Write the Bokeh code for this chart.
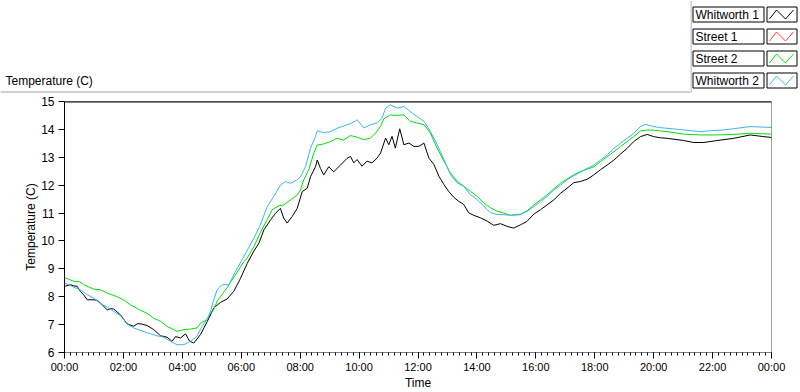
from bokeh.plotting import figure
from bokeh.models import Range1d, FixedTicker, Span, Label
from bokeh.layouts import column, row
from bokeh.core.properties import value
from bokeh.embed import file_html
from bokeh.resources import INLINE

FONT = "Liberation Sans"

# ---------------- data (hours since midnight, temperature in C) ----------------
w1_hours = [0.00, 0.20, 0.32, 0.43, 0.54, 0.65, 0.77, 1.00, 1.11, 1.22, 1.45, 1.56, 1.67, 1.90,
            2.12, 2.35, 2.47, 2.58, 2.80, 3.03, 3.26, 3.48, 3.65, 3.77, 3.94, 4.11, 4.25, 4.39,
            4.62, 4.84, 5.07, 5.30, 5.52, 5.75, 5.97, 6.20, 6.43, 6.60, 6.77, 7.00, 7.16, 7.33,
            7.44, 7.56, 7.73, 7.90, 8.07, 8.24, 8.35, 8.52, 8.58, 8.69, 8.80, 8.97, 9.14, 9.37,
            9.59, 9.71, 9.82, 9.93, 10.10, 10.27, 10.44, 10.61, 10.73, 10.90, 11.01, 11.12,
            11.23, 11.38, 11.52, 11.69, 11.86, 12.03, 12.20, 12.37, 12.54, 12.71, 12.88, 13.04,
            13.21, 13.38, 13.55, 13.72, 13.89, 14.12, 14.35, 14.57, 14.80, 15.03, 15.25, 15.48,
            15.70, 15.93, 16.16, 16.38, 16.61, 16.84, 17.06, 17.29, 17.51, 17.74, 17.97, 18.19,
            18.42, 18.65, 18.87, 19.10, 19.32, 19.55, 19.78, 20.00, 20.23, 20.46, 21.02, 21.36,
            21.70, 22.15, 22.72, 23.28, 23.74, 24.00]
w1_temps = [8.37, 8.43, 8.39, 8.37, 8.19, 8.07, 7.89, 7.89, 7.87, 7.77, 7.53, 7.57, 7.56, 7.35,
            7.03, 6.94, 7.03, 7.03, 6.97, 6.82, 6.60, 6.55, 6.40, 6.57, 6.52, 6.67, 6.40, 6.34,
            6.65, 7.10, 7.60, 7.80, 7.92, 8.20, 8.65, 9.19, 9.64, 9.92, 10.40, 10.76, 10.99, 11.17,
            10.82, 10.64, 10.88, 11.17, 11.77, 11.89, 12.30, 12.66, 12.90, 12.60, 12.37, 12.66, 12.48, 12.72,
            12.96, 13.03, 12.80, 12.92, 12.68, 12.86, 12.80, 12.97, 13.15, 13.69, 13.45, 13.75,
            13.33, 14.02, 13.45, 13.51, 13.39, 13.39, 13.51, 12.97, 12.74, 12.32, 12.02, 11.78,
            11.57, 11.42, 11.31, 11.01, 10.92, 10.83, 10.71, 10.56, 10.62, 10.52, 10.46, 10.58,
            10.70, 10.96, 11.12, 11.29, 11.47, 11.71, 11.89, 12.09, 12.13, 12.21, 12.37, 12.55,
            12.72, 12.90, 13.11, 13.32, 13.56, 13.74, 13.82, 13.74, 13.70, 13.68, 13.60, 13.53,
            13.53, 13.60, 13.68, 13.80, 13.74, 13.71]

s2_hours = [0.00, 0.32, 0.49, 0.65, 1.00, 1.22, 1.45, 1.79, 2.00, 2.24, 2.58, 2.80, 3.03, 3.26,
            3.48, 3.71, 3.82, 4.05, 4.27, 4.50, 4.62, 4.84, 4.95, 5.07, 5.18, 5.29, 5.52, 5.75,
            5.97, 6.09, 6.20, 6.43, 6.65, 6.88, 7.05, 7.27, 7.44, 7.67, 7.90, 8.01, 8.12, 8.29,
            8.46, 8.58, 8.80, 9.03, 9.25, 9.48, 9.71, 9.93, 10.16, 10.39, 10.56, 10.73, 10.84,
            11.07, 11.29, 11.52, 11.74, 11.97, 12.20, 12.42, 12.65, 12.88, 13.10, 13.33, 13.55,
            13.78, 14.01, 14.23, 14.46, 14.68, 14.91, 15.14, 15.48, 15.70, 15.93, 16.16, 16.38,
            16.61, 16.84, 17.06, 17.29, 17.51, 17.74, 17.97, 18.19, 18.42, 18.65, 18.87, 19.10,
            19.32, 19.55, 19.78, 20.00, 20.46, 21.02, 21.59, 22.15, 22.72, 23.28, 24.00]
s2_temps = [8.69, 8.55, 8.55, 8.43, 8.27, 8.25, 8.13, 8.00, 7.89, 7.71, 7.51, 7.41, 7.23, 7.12,
            6.94, 6.82, 6.76, 6.82, 6.84, 6.88, 7.05, 7.18, 7.40, 7.55, 7.84, 8.00, 8.33, 8.70,
            9.06, 9.27, 9.38, 9.80, 10.30, 10.76, 11.12, 11.26, 11.29, 11.47, 11.65, 11.83, 12.19, 12.55,
            13.14, 13.44, 13.48, 13.56, 13.68, 13.62, 13.78, 13.72, 13.63, 13.69, 13.87, 14.11, 14.38,
            14.52, 14.50, 14.52, 14.29, 14.23, 14.17, 13.87, 13.33, 12.86, 12.44, 12.14, 11.96,
            11.78, 11.60, 11.36, 11.19, 11.07, 11.00, 10.92, 10.96, 11.08, 11.29, 11.47, 11.65,
            11.87, 12.07, 12.22, 12.37, 12.49, 12.57, 12.66, 12.84, 13.02, 13.20, 13.38, 13.56,
            13.74, 13.94, 13.98, 13.97, 13.92, 13.83, 13.80, 13.80, 13.82, 13.86, 13.83]

w2_hours = [0.00, 0.32, 0.54, 0.77, 1.00, 1.22, 1.45, 1.67, 1.90, 2.12, 2.35, 2.58, 2.92, 3.14,
            3.37, 3.60, 3.82, 4.05, 4.27, 4.50, 4.62, 4.84, 4.95, 5.07, 5.18, 5.35, 5.58, 5.75,
            6.09, 6.43, 6.65, 6.88, 7.10, 7.33, 7.50, 7.67, 7.90, 8.01, 8.18, 8.35, 8.52, 8.58,
            8.80, 9.03, 9.25, 9.48, 9.71, 9.88, 9.93, 10.16, 10.39, 10.61, 10.78, 10.90, 11.07,
            11.29, 11.52, 11.74, 11.97, 12.20, 12.42, 12.65, 12.88, 13.10, 13.33, 13.55, 13.78,
            14.01, 14.23, 14.46, 14.68, 14.91, 15.14, 15.48, 15.70, 15.93, 16.16, 16.38, 16.61,
            16.84, 17.06, 17.29, 17.51, 17.74, 17.97, 18.19, 18.42, 18.65, 18.87, 19.10, 19.32,
            19.55, 19.72, 20.00, 20.23, 20.46, 21.02, 21.59, 21.93, 22.38, 22.83, 23.28, 24.00]
w2_temps = [8.49, 8.34, 8.25, 8.07, 7.95, 7.75, 7.63, 7.47, 7.32, 7.03, 6.88, 6.79, 6.67, 6.60,
            6.55, 6.40, 6.28, 6.28, 6.40, 6.58, 6.85, 7.20, 7.45, 7.90, 8.25, 8.43, 8.43, 8.80,
            9.45, 10.10, 10.58, 11.23, 11.59, 12.00, 12.13, 12.07, 12.19, 12.30, 12.66, 13.32, 13.74, 13.95,
            13.88, 13.92, 14.04, 14.12, 14.21, 14.30, 14.35, 14.05, 14.17, 14.23, 14.40, 14.76, 14.88,
            14.76, 14.82, 14.64, 14.46, 14.29, 13.93, 13.45, 12.92, 12.38, 12.08, 11.96, 11.66,
            11.48, 11.25, 11.01, 10.95, 10.94, 10.92, 10.94, 11.06, 11.23, 11.41, 11.59, 11.83,
            12.00, 12.19, 12.34, 12.46, 12.60, 12.72, 12.90, 13.08, 13.32, 13.50, 13.68, 13.86,
            14.10, 14.18, 14.10, 14.06, 14.04, 13.98, 13.92, 13.95, 13.98, 14.04, 14.10, 14.07]

legend_names = ["Whitworth 1", "Street 1", "Street 2", "Whitworth 2"]
legend_colors = ["#000000", "#ff3b3b", "#00e000", "#3cb4f5"]

x_tick_hours = [0, 2, 4, 6, 8, 10, 12, 14, 16, 18, 20, 22, 24]
x_tick_labels = ["00:00", "02:00", "04:00", "06:00", "08:00", "10:00", "12:00",
                 "14:00", "16:00", "18:00", "20:00", "22:00", "00:00"]
y_ticks = [6, 7, 8, 9, 10, 11, 12, 13, 14, 15]

TOP_H = 93
LEG_W = 110

# ---------------- top strip: chart caption ----------------
tl = figure(width=800 - LEG_W, height=TOP_H, x_range=Range1d(0, 800 - LEG_W),
            y_range=Range1d(TOP_H, 0),
            x_axis_location=None, y_axis_location=None, min_border=0,
            output_backend="svg", toolbar_location=None)
tl.xgrid.visible = False
tl.ygrid.visible = False
tl.outline_line_color = None
tl.add_layout(Label(x=5, y=80, text="Temperature (C)", text_baseline="middle",
                    text_font=FONT, text_font_size="12px", text_color="#000000"))
tl.add_layout(Span(location=TOP_H - 1.5, dimension="width", line_color="#a0a0a0", line_width=1))

# ---------------- legend panel ----------------
lg = figure(width=LEG_W, height=TOP_H, x_range=Range1d(0, LEG_W), y_range=Range1d(TOP_H, 0),
            x_axis_location=None, y_axis_location=None, min_border=0,
            output_backend="svg", toolbar_location=None)
lg.xgrid.visible = False
lg.ygrid.visible = False
lg.outline_line_color = None
lg.add_layout(Span(location=0.5, dimension="height", line_color="#a0a0a0", line_width=1))
for i, (nm, col) in enumerate(zip(legend_names, legend_colors)):
    top = 6.5 + 22 * i
    bot = top + 15
    lg.quad(left=[2.5], right=[73.5], top=[top], bottom=[bot],
            fill_color="white", line_color="#000000", line_width=1)
    lg.quad(left=[76.5], right=[106.5], top=[top], bottom=[bot],
            fill_color="white", line_color="#000000", line_width=1)
    lg.line(x=[79, 86, 95, 103], y=[bot - 3, top + 3, bot - 3, top + 3],
            line_color=col, line_width=1)
    lg.text(x=[5], y=[top + 8], text=[nm], text_baseline="middle",
            text_font=value(FONT), text_font_size="12px", text_color="#000000")

# ---------------- main chart ----------------
p = figure(width=800, height=392 - TOP_H, x_range=Range1d(0, 24), y_range=Range1d(6, 15),
           min_border_left=64, min_border_right=29, min_border_top=8, min_border_bottom=39,
           output_backend="svg", toolbar_location=None)
p.xgrid.visible = False
p.ygrid.visible = False
p.background_fill_color = "white"
p.border_fill_color = "white"
p.outline_line_color = "#a0a0a0"

minor = [round(i * 0.2, 2) for i in range(121)]
p.xaxis.ticker = FixedTicker(ticks=x_tick_hours, minor_ticks=minor)
p.xaxis.major_label_overrides = {h: lab for h, lab in zip(x_tick_hours, x_tick_labels)}
p.yaxis.ticker = FixedTicker(ticks=y_ticks, minor_ticks=[])

p.xaxis.axis_label = "Time"
p.yaxis.axis_label = "Temperature (C)"
for ax in (p.xaxis, p.yaxis):
    ax.axis_label_text_font = FONT
    ax.axis_label_text_font_size = "12px"
    ax.axis_label_text_font_style = "normal"
    ax.axis_label_text_color = "#000000"
    ax.major_label_text_font = FONT
    ax.major_label_text_color = "#000000"
    ax.major_tick_in = 0
    ax.major_tick_out = 6
    ax.minor_tick_in = 0
    ax.major_tick_line_color = "#000000"
    ax.minor_tick_line_color = "#000000"

p.xaxis.major_label_text_font_size = "11px"
p.yaxis.major_label_text_font_size = "12px"
p.xaxis.minor_tick_out = 3
p.xaxis.major_label_standoff = 2
p.xaxis.axis_label_standoff = 0
p.xaxis.axis_line_color = "#808080"
p.yaxis.axis_line_color = "#000000"
p.yaxis.major_label_standoff = 4
p.yaxis.axis_label_standoff = 0

p.add_layout(Span(location=15, dimension="width", line_color="#000000", line_width=2))

p.line(w1_hours, w1_temps, line_color=legend_colors[0], line_width=1)
p.line(s2_hours, s2_temps, line_color=legend_colors[2], line_width=1)
p.line(w2_hours, w2_temps, line_color=legend_colors[3], line_width=1)

layout = column(row(tl, lg), p)
open("out.html", "w").write(file_html(layout, INLINE))
